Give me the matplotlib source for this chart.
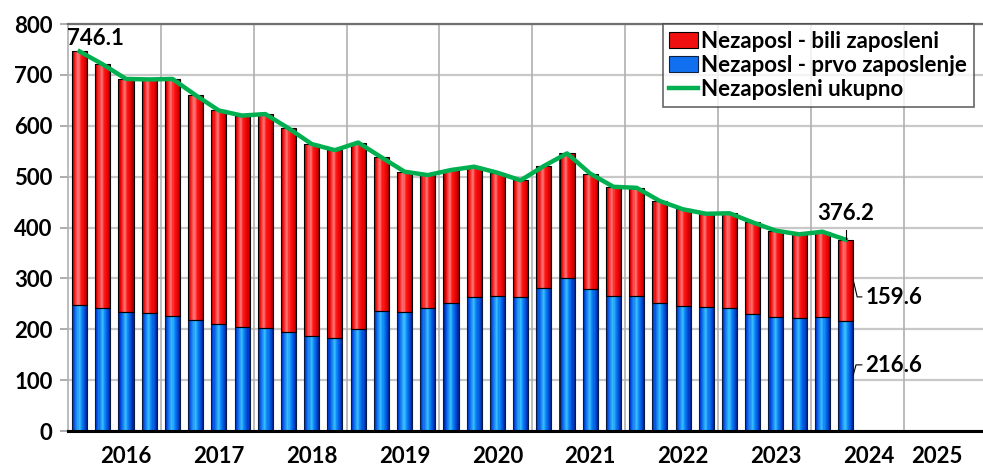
import numpy as np
import matplotlib
matplotlib.use("Agg")
import matplotlib.pyplot as plt
from matplotlib.colors import LinearSegmentedColormap
from matplotlib.patches import Patch
from matplotlib.lines import Line2D

# Podaci (hiljade), kvartalno
prvo_zaposlenje = [248, 241, 233, 232.5, 227, 219, 210, 205, 203, 194.6, 187, 182,
                   200, 236, 234.5, 241, 252, 262.7, 264.7, 262.7, 280.4, 300, 278.5,
                   266, 264.7, 252, 246, 243.7, 241, 230.6, 223.5, 221.5, 223.5, 216.6]
bili_zaposleni = [498.1, 479.6, 459, 458.5, 465, 441, 420, 415, 420, 400.4, 377, 370,
                  367, 302, 275.2, 262, 261, 256.8, 243, 230, 240.4, 245.7, 227.3,
                  214, 213.3, 200, 189.7, 183.3, 187, 179.4, 170.2, 165.1, 168.2, 159.6]
godine = ["2016", "2017", "2018", "2019", "2020", "2021", "2022", "2023", "2024", "2025"]
godine_pos = [2, 6, 10, 14, 18, 22, 26, 30, 34, 36.95]

plt.rcParams['font.family'] = ['Lato', 'DejaVu Sans']
plt.rcParams['font.weight'] = 'bold'
FS = 16

plava = np.array(prvo_zaposlenje)
crvena = np.array(bili_zaposleni)
ukupno = plava + crvena
x = np.arange(len(plava))

fig = plt.figure(figsize=(9.83, 4.70), dpi=100)
ax = fig.add_axes([68 / 983, 39 / 470, 915 / 983, 407 / 470])

# gradijent na stupcima - tanke vertikalne trake
cm_red = LinearSegmentedColormap.from_list('r', [(0, '#a00000'), (0.12, '#e80000'), (0.42, '#ff7878'),
                                                 (0.58, '#ff1818'), (0.88, '#e00000'), (1, '#900000')])
cm_blue = LinearSegmentedColormap.from_list('b', [(0, '#00209a'), (0.12, '#0048e0'), (0.48, '#38c0ff'),
                                                  (0.62, '#1088f8'), (0.88, '#0044d0'), (1, '#001f88')])
w = 0.65
k = 14
sw = w / k
for j in range(k):
    off = -w / 2 + (j + 0.5) * sw
    t = (j + 0.5) / k
    ax.bar(x + off, plava, width=sw * 1.02, color=cm_blue(t), linewidth=0, zorder=3)
    ax.bar(x + off, crvena, bottom=plava, width=sw * 1.02, color=cm_red(t), linewidth=0, zorder=3)

ax.bar(x, plava, width=w, fill=False, edgecolor='#0a1a40', linewidth=0.8, zorder=3.2)
ax.bar(x, crvena, bottom=plava, width=w, fill=False, edgecolor='black', linewidth=0.8, zorder=3.2)

ax.plot(x, ukupno, color='#00b050', linewidth=3.2, zorder=4, solid_joinstyle='round')

ax.set_xlim(-0.5, 38.92)
ax.set_ylim(0, 800)
ax.set_yticks(range(0, 801, 100))
ax.set_xticks(godine_pos)
ax.set_xticklabels(godine)
ax.tick_params(axis='x', length=0, pad=11, labelsize=FS)
ax.tick_params(axis='y', length=6, color='#a0a0a0', width=1.2, pad=5, labelsize=FS)
ax.set_axisbelow(True)
ax.grid(axis='y', color='#c8c8c8', linewidth=1.6)
for xv in np.arange(3.5, 39, 4):
    ax.axvline(xv, color='#b0b0b0', linewidth=1.2, zorder=1)

ax.spines['right'].set_visible(False)
ax.spines['top'].set_color('#707070')
ax.spines['top'].set_linewidth(1.6)
ax.spines['left'].set_color('#b0b0b0')
ax.spines['left'].set_linewidth(1.2)
ax.spines['bottom'].set_color('black')
ax.spines['bottom'].set_linewidth(2.2)
ax.spines['bottom'].set_zorder(5)

# oznake vrijednosti
ax.text(-0.53, ukupno[0] + 5, f"{ukupno[0]:.1f}", fontsize=FS, fontweight='bold', ha='left', va='bottom')
n = len(x) - 1
ax.text(n, ukupno[n] + 30, f"{ukupno[n]:.1f}", fontsize=FS, fontweight='bold', ha='center', va='bottom')
ax.plot([n, n], [ukupno[n] + 2, ukupno[n] + 19], color='black', linewidth=0.8, zorder=5)
ax.text(n + 0.85, plava[n] + 45, f"{crvena[n]:.1f}", fontsize=FS, fontweight='bold', ha='left', va='center')
ax.plot([n + 0.33, n + 0.5, n + 0.7], [plava[n] + 80, plava[n] + 47, plava[n] + 47],
        color='black', linewidth=0.8, zorder=5)
ax.text(n + 0.85, 128, f"{plava[n]:.1f}", fontsize=FS, fontweight='bold', ha='left', va='center')
ax.plot([n + 0.33, n + 0.45, n + 0.7], [110, 130, 130], color='black', linewidth=0.8, zorder=5)

handles = [Patch(facecolor='#f01010', edgecolor='black', linewidth=0.8),
           Patch(facecolor='#1070f0', edgecolor='#102040', linewidth=0.8),
           Line2D([0], [0], color='#00b050', linewidth=3.2)]
labels = ["Nezaposl - bili zaposleni", "Nezaposl - prvo zaposlenje", "Nezaposleni ukupno"]
leg = ax.legend(handles, labels, loc='upper right', bbox_to_anchor=(974 / 983, 446 / 470),
                bbox_transform=fig.transFigure, fontsize=FS, frameon=True, fancybox=False,
                borderpad=0.3, labelspacing=0.14, handlelength=1.3, handletextpad=0.15,
                borderaxespad=0)
leg.get_frame().set_edgecolor('#404040')
leg.get_frame().set_linewidth(1.2)
leg.set_zorder(6)

fig.savefig('out.png', dpi=100)
